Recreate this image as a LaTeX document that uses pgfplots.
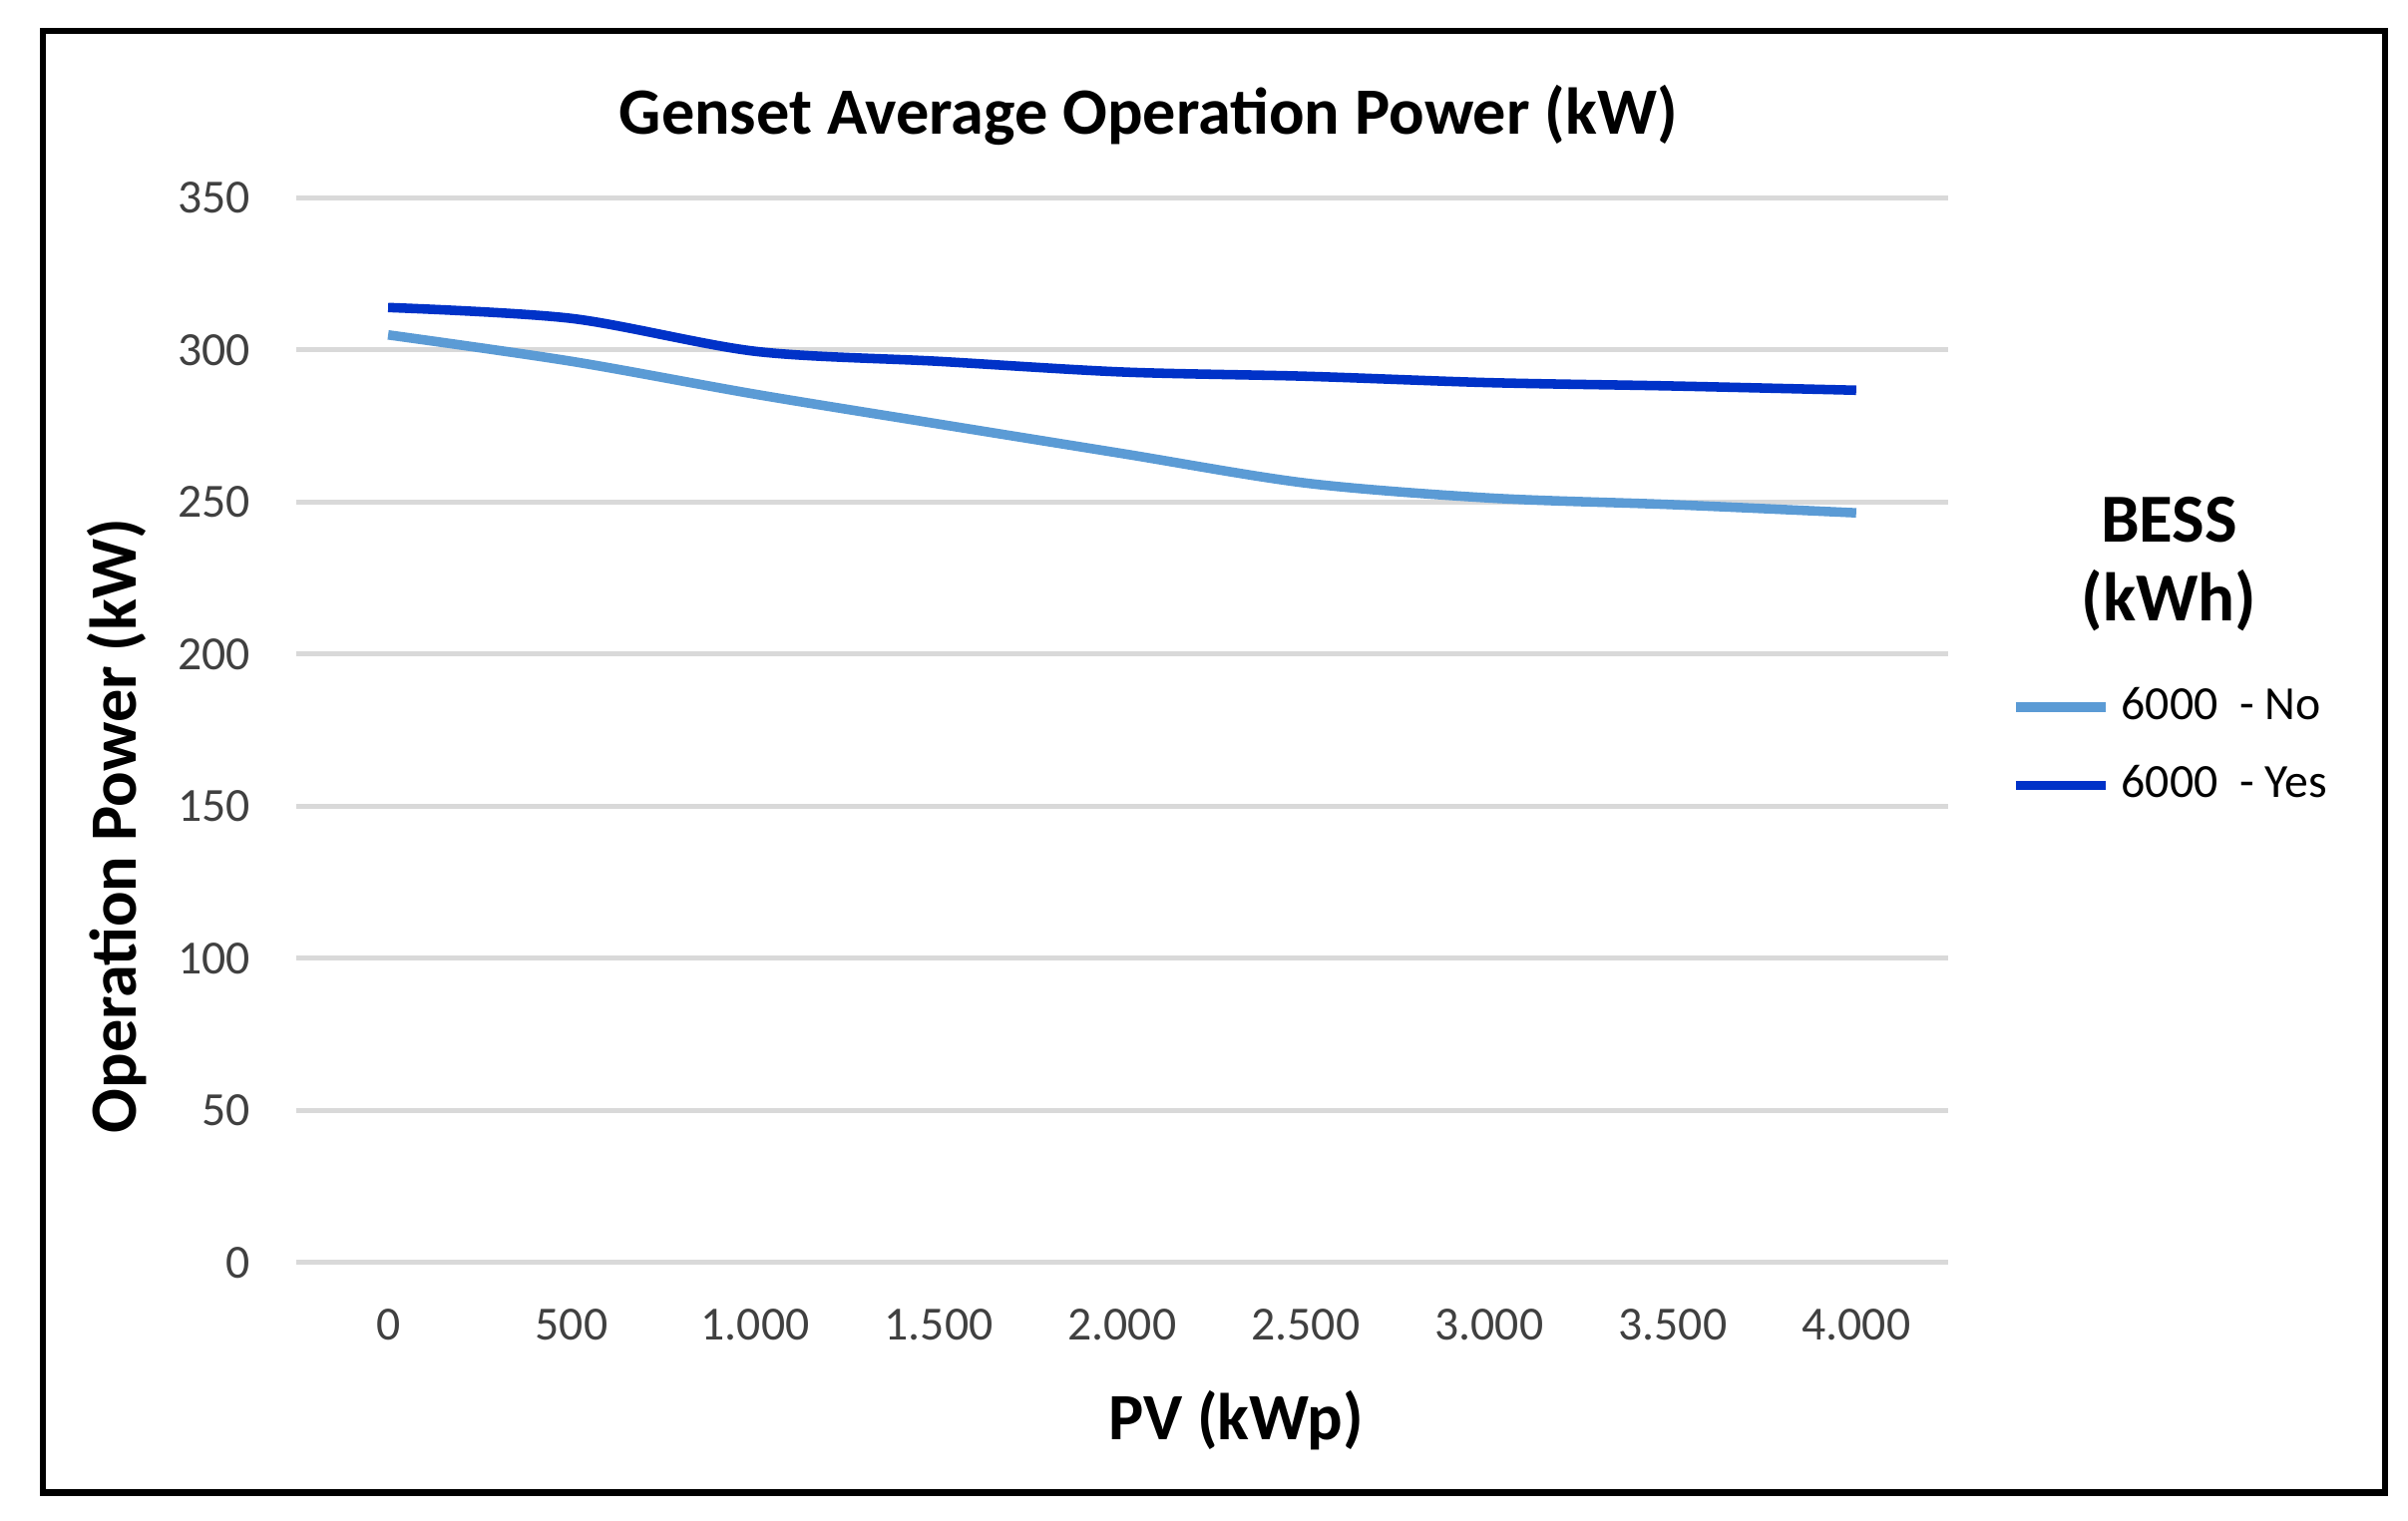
\documentclass[border=0pt]{standalone}
\usepackage{fontspec}
\setmainfont{Carlito}
\usepackage{pgfplots}
\pgfplotsset{compat=1.18}

\definecolor{lightline}{HTML}{5B9BD5}
\definecolor{darkline}{HTML}{0032C8}
\definecolor{gridgray}{HTML}{D9D9D9}
\definecolor{ticktext}{HTML}{404040}

\begin{document}
\begin{tikzpicture}
  % page size and outer frame
  \path[fill=white] (-1.970cm,-1.713cm) rectangle (14.036cm,8.393cm);
  \draw[black, line width=1.2pt] (-1.683cm,-1.529cm) rectangle (13.882cm,8.187cm);

  \begin{axis}[
      at={(0,0)}, anchor=south west,
      scale only axis,
      width=10.978cm, height=7.079cm,
      xmin=-250, xmax=4250,
      ymin=0, ymax=350,
      xtick={0,500,1000,1500,2000,2500,3000,3500,4000},
      xticklabels={0,500,1.000,1.500,2.000,2.500,3.000,3.500,4.000},
      ytick={0,50,100,150,200,250,300,350},
      axis line style={draw=none},
      major tick length=0pt,
      ymajorgrids=true,
      grid style={gridgray, line width=0.9pt},
      /pgf/number format/assume math mode=true,
      tick label style={font=\fontsize{9}{10}\selectfont, text=ticktext},
      yticklabel style={inner sep=0pt, xshift=-0.30cm},
      xticklabel style={inner sep=0pt, yshift=-0.30cm},
      xlabel={\textbf{PV (kWp)}},
      xlabel style={font=\fontsize{12.5}{15}\selectfont, at={(axis description cs:0.569,-0.148)}, anchor=center},
      ylabel={\textbf{Operation Power (kW)}},
      ylabel style={font=\fontsize{12.5}{15}\selectfont, at={(axis description cs:-0.109,0.41)}, anchor=center},
      legend style={at={(axis description cs:1.028,0.561)}, anchor=north west, draw=none,
        font=\fontsize{9}{10}\selectfont, row sep=3.2pt},
      legend cell align=left,
      legend image code/.code={\draw[#1] (0cm,0cm) -- (0.6cm,0cm);},
      clip=false,
    ]

    \addplot[lightline, line width=1.8pt, smooth]
    coordinates {
        (0,304.9) (500,296.2) (1000,285.4) (1500,275.6) (2000,265.9) (2500,256.2) (3000,251.3) (3500,249.1) (4000,246.4)
      };

    \addplot[darkline, line width=1.8pt, smooth]
    coordinates {
        (0,313.9) (500,310.3) (1000,299.5) (1500,296.2) (2000,292.7) (2500,291.3) (3000,289.2) (3500,288.1) (4000,286.7)
      };

    \legend{6000\ \ - No, 6000\ \ - Yes}

    % chart title and legend title
    \node[font=\fontsize{12.5}{14}\selectfont\bfseries]
      at (axis description cs:0.516,1.077) {Genset Average Operation Power (kW)};
    \node[font=\fontsize{13}{15}\selectfont\bfseries, align=center]
      at (axis description cs:1.134,0.656) {BESS\\(kWh)};
  \end{axis}
\end{tikzpicture}
\end{document}
